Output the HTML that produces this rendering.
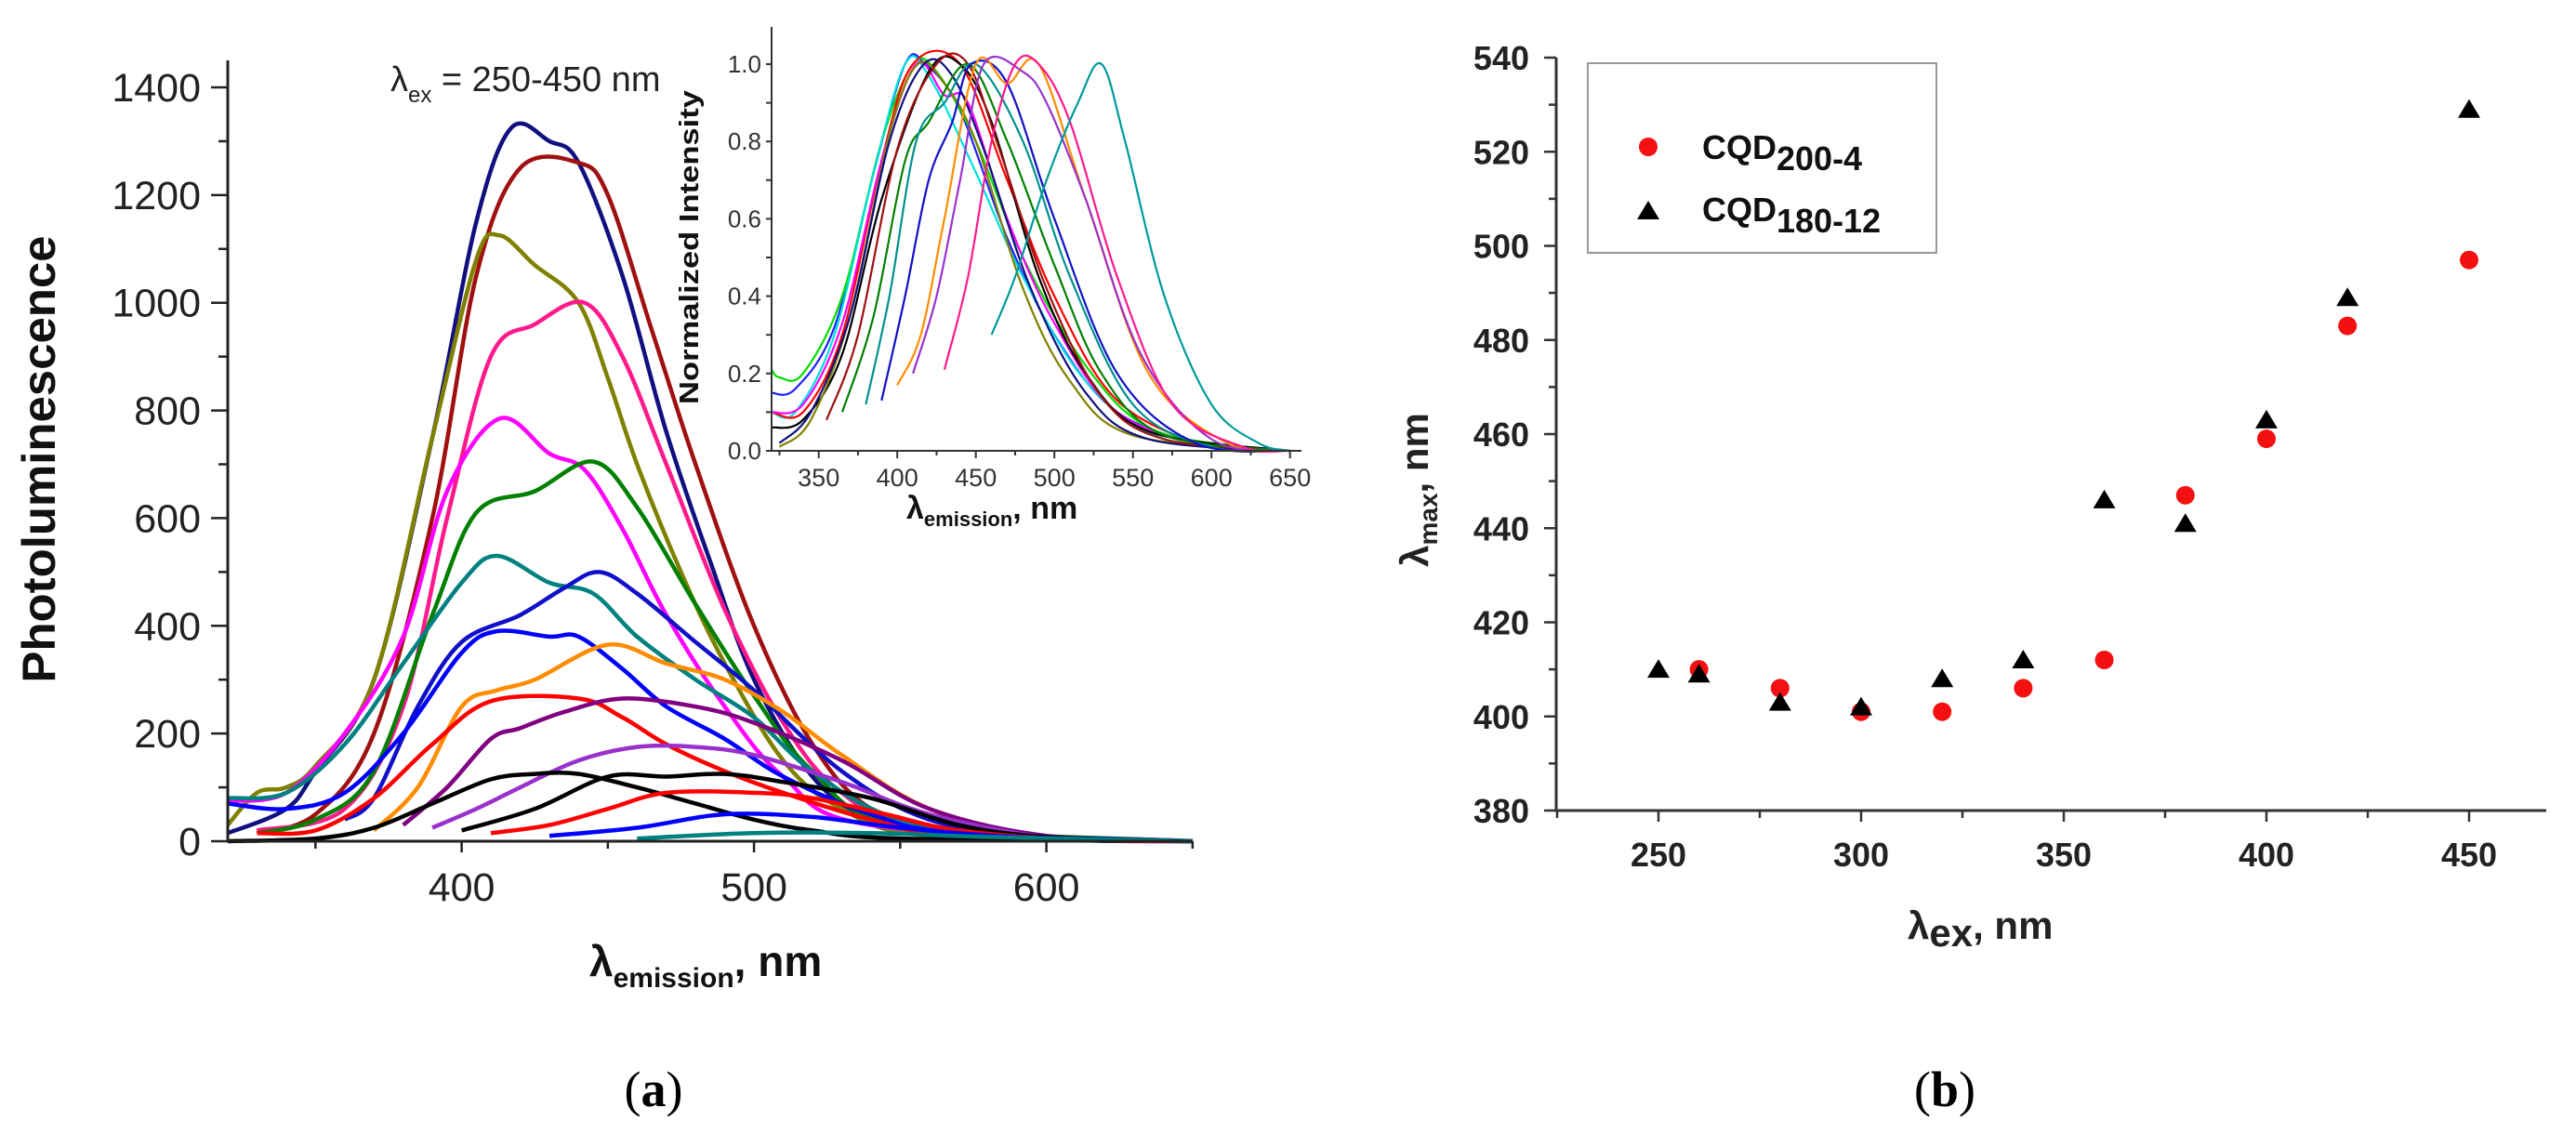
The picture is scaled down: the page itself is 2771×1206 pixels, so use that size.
<!DOCTYPE html>
<html><head><meta charset="utf-8"><style>
html,body{margin:0;padding:0;background:#fff;}
svg{display:block;}
text{font-family:"Liberation Sans",Arial,sans-serif;}
</style></head><body>
<svg id="fig" width="2771" height="1206" viewBox="0 0 2771 1206" xmlns="http://www.w3.org/2000/svg">
<rect width="2771" height="1206" fill="#fff"/>
<g id="pa"></g>
<g id="ins"></g>
<g id="pb"></g>
</svg>
<script>
// ---------- Panel (a) data ----------
const plColors = ["#101080","#a01010","#808000","#ff1a8c","#ff00ff","#008000","#008080","#1010c8","#0000ff","#ff8c00","#ff0000","#800080","#9932cc","#000000","#000000","#ff0000","#0000ff","#008080"];
const plC1=[[320,15],[340,60],[350,130],[370,300],[390,750],[405,1150],[417,1325],[430,1300],[440,1260],[455,1050],[470,760],[485,520],[500,300],[520,120],[540,40],[570,8],[650,0]];
const plC2=[[330,15],[350,50],[370,200],[390,600],[405,1050],[420,1250],[440,1260],[450,1200],[465,950],[480,700],[500,400],[520,180],[540,60],[570,10],[650,0]];
const plC3=[[320,30],[330,90],[340,100],[350,140],[370,300],[390,750],[405,1080],[413,1125],[425,1070],[440,1000],[450,860],[460,700],[475,500],[490,330],[510,150],[530,60],[560,10],[650,0]];
const plC4=[[330,20],[360,60],[380,250],[395,600],[410,900],[425,960],[442,1000],[455,900],[470,700],[490,430],[510,220],[530,90],[560,20],[650,0]];
const plC5=[[320,75],[340,90],[360,200],[380,380],[395,650],[413,785],[430,720],[442,690],[455,580],[470,420],[490,250],[510,120],[540,30],[650,0]];
const plC6=[[330,15],[350,40],[370,130],[390,420],[405,610],[425,650],[445,705],[460,620],[480,440],[500,270],[520,130],[550,30],[650,0]];
const plC7=[[320,80],[340,90],[360,180],[380,330],[400,480],[412,530],[430,480],[445,460],[460,380],[480,300],[500,230],[520,130],[550,40],[600,5],[650,0]];
const plC8=[[360,40],[370,80],[385,250],[400,370],[420,420],[435,470],[447,500],[460,460],[480,370],[500,280],[530,130],[560,40],[600,5],[650,0]];
const plC9=[[320,70],[340,60],[360,90],[380,200],[400,350],[412,390],[430,380],[440,380],[455,320],[470,250],[490,190],[510,120],[540,50],[570,15],[650,0]];
const plC10=[[370,20],[385,100],[400,250],[412,280],[425,300],[450,365],[470,330],[490,300],[510,240],[530,160],[560,60],[600,8],[650,0]];
const plC11=[[330,15],[350,20],[370,80],[390,180],[410,260],[440,265],[455,230],[470,180],[490,130],[510,90],[540,40],[570,10],[650,0]];
const plC12=[[380,30],[395,100],[410,190],[420,210],[435,240],[455,265],[480,250],[500,220],[530,150],[560,60],[600,10],[650,0]];
const plC13=[[390,25],[405,60],[420,100],[440,150],[460,175],[480,175],[500,160],[530,110],[560,50],[600,8],[650,0]];
const plC14=[[320,0],[350,5],[370,25],[390,70],[410,115],[425,125],[440,125],[460,100],[480,70],[500,40],[520,20],[550,5],[650,0]];
const plC15=[[400,20],[425,60],[450,120],[470,120],[490,125],[510,110],[540,80],[570,30],[600,8],[650,0]];
const plC16=[[410,15],[430,30],[450,60],[470,90],[500,90],[520,80],[545,50],[570,20],[610,3],[650,0]];
const plC17=[[430,10],[460,25],[490,50],[520,45],[550,25],[590,8],[650,0]];
const plC18=[[460,5],[500,15],[540,15],[580,8],[650,0]];
const plSeries=[plC1,plC2,plC3,plC4,plC5,plC6,plC7,plC8,plC9,plC10,plC11,plC12,plC13,plC14,plC15,plC16,plC17,plC18];
const plYTicks=[0,200,400,600,800,1000,1200,1400];
const plXTicks=[400,500,600];

// ---------- Inset data ----------
const inColors=["#2020ff","#00dd00","#00e0e0","#ff0000","#ff00ff","#000000","#808000","#101080","#a01010","#008000","#009090","#1010c8","#ff8c00","#9932cc","#ff1a8c","#009a9a"];
const in1=[[320,0.15],[335,0.16],[360,0.32],[385,0.72],[405,1],[418,1],[440,0.88],[470,0.55],[500,0.3],[540,0.1],[600,0.01],[650,0]];
const in2=[[320,0.21],[325,0.19],[340,0.2],[365,0.4],[390,0.8],[410,1],[425,0.98],[450,0.8],[480,0.5],[520,0.22],[560,0.06],[620,0.01],[650,0]];
const in3=[[320,0.1],[335,0.1],[360,0.3],[385,0.72],[405,1],[420,0.97],[450,0.72],[480,0.45],[520,0.18],[570,0.03],[650,0]];
const in4=[[320,0.1],[340,0.1],[365,0.3],[390,0.75],[410,1],[440,1],[470,0.7],[500,0.4],[540,0.13],[600,0.01],[650,0]];
const in5=[[320,0.1],[340,0.12],[365,0.33],[390,0.75],[412,1],[430,0.92],[445,0.9],[470,0.6],[500,0.33],[540,0.1],[600,0.01],[650,0]];
const in6=[[320,0.06],[340,0.08],[365,0.25],[390,0.65],[420,0.98],[440,1],[460,0.85],[490,0.45],[520,0.2],[560,0.05],[650,0]];
const in7=[[325,0.01],[345,0.08],[370,0.35],[395,0.82],[413,1],[430,0.95],[450,0.8],[480,0.42],[510,0.18],[550,0.04],[650,0]];
const in8=[[325,0.02],[345,0.1],[370,0.35],[395,0.8],[417,1],[435,0.97],[455,0.78],[485,0.42],[520,0.15],[560,0.03],[650,0]];
const in9=[[355,0.08],[375,0.3],[400,0.78],[425,1],[445,1],[465,0.78],[495,0.42],[530,0.14],[570,0.03],[650,0]];
const in10=[[365,0.1],[385,0.35],[405,0.75],[420,0.85],[445,1],[470,0.8],[500,0.48],[530,0.2],[570,0.04],[650,0]];
const in11=[[380,0.12],[395,0.4],[412,0.8],[430,0.9],[450,1],[480,0.8],[510,0.45],[550,0.12],[600,0.01],[650,0]];
const in12=[[390,0.13],[405,0.4],[420,0.7],[435,0.85],[447,1],[470,0.95],[500,0.6],[540,0.2],[590,0.02],[650,0]];
const in13=[[400,0.17],[415,0.3],[430,0.6],[450,1],[470,0.95],[490,1],[520,0.65],[560,0.2],[610,0.02],[650,0]];
const in14=[[410,0.2],[425,0.4],[440,0.7],[455,1],[480,0.98],[495,0.9],[520,0.65],[555,0.25],[600,0.03],[650,0]];
const in15=[[430,0.21],[445,0.45],[460,0.8],[475,1],[490,1],[510,0.85],[540,0.45],[575,0.12],[620,0.01],[650,0]];
const in16=[[460,0.3],[475,0.45],[495,0.7],[515,0.9],[530,1],[545,0.8],[570,0.4],[600,0.12],[630,0.02],[650,0]];
const inSeries=[in1,in2,in3,in4,in5,in6,in7,in8,in9,in10,in11,in12,in13,in14,in15,in16];
const inYTicks=[0,0.2,0.4,0.6,0.8,1.0];
const inXTicks=[350,400,450,500,550,600,650];

// ---------- Panel (b) data ----------
const exA=[260,280,300,320,340,360,380,400,420,450];
const maxA=[410,406,401,401,406,412,447,459,483,497];
const exB=[250,260,280,300,320,340,360,380,400,420,450];
const maxB=[410,409,403,402,408,412,446,441,463,489,529];
const bYTicks=[380,400,420,440,460,480,500,520,540];
const bXTicks=[250,300,350,400,450];

const NS="http://www.w3.org/2000/svg";
function mk(parent,tag,attrs,txt){const e=document.createElementNS(NS,tag);for(const k in attrs)e.setAttribute(k,attrs[k]);if(txt!==undefined)e.textContent=txt;parent.appendChild(e);return e;}
function smooth(pts){let d="M"+pts[0][0].toFixed(1)+","+pts[0][1].toFixed(1);for(let i=0;i<pts.length-1;i++){const p0=pts[Math.max(0,i-1)],p1=pts[i],p2=pts[i+1],p3=pts[Math.min(pts.length-1,i+2)];const c1=[p1[0]+(p2[0]-p0[0])/6,p1[1]+(p2[1]-p0[1])/6],c2=[p2[0]-(p3[0]-p1[0])/6,p2[1]-(p3[1]-p1[1])/6];d+="C"+c1[0].toFixed(1)+","+c1[1].toFixed(1)+" "+c2[0].toFixed(1)+","+c2[1].toFixed(1)+" "+p2[0].toFixed(1)+","+p2[1].toFixed(1);}return d;}

// ===== Panel a =====
const pa=document.getElementById('pa');
const ax=v=>245+(v-320)*3.145, ay=v=>905-v*(811/1400);
plSeries.forEach((s,i)=>{
  const p=mk(pa,'path',{d:smooth(s.map(q=>[ax(q[0]),ay(q[1])])),fill:'none',stroke:plColors[i],'stroke-width':4.5,'stroke-linejoin':'round'});
  
  
});
let e;
e=mk(pa,'path',{d:`M245,65V905H${ax(650)}`,fill:'none',stroke:'#222','stroke-width':3});

for(let v=0;v<=1400;v+=100){mk(pa,'line',{x1:245,x2:v%200?235:227,y1:ay(v),y2:ay(v),stroke:'#222','stroke-width':2.5});}
plYTicks.forEach(v=>{e=mk(pa,'text',{x:216,y:ay(v)+15,'font-size':43,'text-anchor':'end',fill:'#222'},String(v));});
for(let v=350;v<=650;v+=50){mk(pa,'line',{x1:ax(v),x2:ax(v),y1:905,y2:v%100?913:917,stroke:'#222','stroke-width':2.5});}
plXTicks.forEach(v=>{e=mk(pa,'text',{x:ax(v),y:969,'font-size':43,'text-anchor':'middle',fill:'#222'},String(v));});
e=mk(pa,'text',{x:0,y:0,'font-size':50,'font-weight':'bold',transform:'translate(59,494) rotate(-90)','text-anchor':'middle',textLength:481,lengthAdjust:'spacingAndGlyphs',fill:'#111'},'Photoluminescence');

e=mk(pa,'text',{x:634,y:1050,'font-size':46,'font-weight':'bold',fill:'#111'});

e.innerHTML='λ<tspan font-size="30" dy="12">emission</tspan><tspan dy="-12">, nm</tspan>';
e=mk(pa,'text',{x:420,y:98,'font-size':38,fill:'#222'});

e.innerHTML='λ<tspan font-size="24" dy="12">ex</tspan><tspan dy="-12"> = 250-450 nm</tspan>';
e=mk(pa,'text',{x:703,y:1190,'font-size':54,'text-anchor':'middle',style:'font-family:"Liberation Serif",serif',fill:'#000'});

e.innerHTML='(<tspan font-weight="bold">a</tspan>)';

// ===== Inset =====
const ins=document.getElementById('ins');
const ix=v=>830+(v-320)*1.69, iy=v=>485-v*416;
inSeries.forEach((s,i)=>{
  const p=mk(ins,'path',{d:smooth(s.map(q=>[ix(q[0]),iy(q[1])])),fill:'none',stroke:inColors[i],'stroke-width':2.2});
  
  
});
e=mk(ins,'path',{d:`M830,29V485H1400`,fill:'none',stroke:'#333','stroke-width':2});

for(let v=0;v<=1.05;v+=0.1){mk(ins,'line',{x1:830,x2:824,y1:iy(v),y2:iy(v),stroke:'#333','stroke-width':2});}
inYTicks.forEach(v=>{e=mk(ins,'text',{x:819,y:iy(v)+9,'font-size':26,'text-anchor':'end',fill:'#333'},v.toFixed(1));});
for(let v=325;v<=650;v+=25){mk(ins,'line',{x1:ix(v),x2:ix(v),y1:485,y2:v%50?490:493,stroke:'#333','stroke-width':2});}
inXTicks.forEach(v=>{e=mk(ins,'text',{x:ix(v),y:523,'font-size':27,'text-anchor':'middle',fill:'#333'},String(v));});
e=mk(ins,'text',{x:0,y:0,'font-size':29,'font-weight':'bold',transform:'translate(751,266) rotate(-90)','text-anchor':'middle',textLength:338,lengthAdjust:'spacingAndGlyphs',fill:'#111'},'Normalized Intensity');

e=mk(ins,'text',{x:975,y:558,'font-size':34,'font-weight':'bold',fill:'#111'});

e.innerHTML='λ<tspan font-size="22" dy="8">emission</tspan><tspan dy="-8">, nm</tspan>';

// ===== Panel b =====
const pb=document.getElementById('pb');
const bx=v=>1784+(v-250)*4.36, by=v=>872-(v-380)*(810/160);
e=mk(pb,'path',{d:`M1674,62V872H2739`,fill:'none',stroke:'#333','stroke-width':3});

for(let v=380;v<=540;v+=10){mk(pb,'line',{x1:1674,x2:v%20?1666:1661,y1:by(v),y2:by(v),stroke:'#333','stroke-width':2.5});}
bYTicks.forEach(v=>{e=mk(pb,'text',{x:1645,y:by(v)+13,'font-size':36,'font-weight':'bold','text-anchor':'end',fill:'#222'},String(v));});
for(let v=225;v<=470;v+=25){mk(pb,'line',{x1:bx(v),x2:bx(v),y1:872,y2:v%50?880:884,stroke:'#333','stroke-width':2.5});}
bXTicks.forEach(v=>{e=mk(pb,'text',{x:bx(v),y:932,'font-size':36,'font-weight':'bold','text-anchor':'middle',fill:'#222'},String(v));});
exA.forEach((x,i)=>{e=mk(pb,'circle',{cx:bx(x),cy:by(maxA[i]),r:10,fill:'#f21010'});});
exB.forEach((x,i)=>{const cx=bx(x),cy=by(maxB[i]);e=mk(pb,'polygon',{points:`${cx},${cy-11} ${cx-12},${cy+9} ${cx+12},${cy+9}`,fill:'#000'});});
const lg=mk(pb,'g',{});

mk(lg,'rect',{x:1708,y:68,width:375,height:204,fill:'#fff',stroke:'#999','stroke-width':2});
e=mk(lg,'circle',{cx:1773,cy:158,r:10,fill:'#f21010'});
e=mk(lg,'polygon',{points:'1773,216 1761,236 1785,236',fill:'#000'});
e=mk(lg,'text',{x:1831,y:171,'font-size':36,'font-weight':'bold',fill:'#111'});
e.innerHTML='CQD<tspan dy="12">200-4</tspan>';
e=mk(lg,'text',{x:1831,y:238,'font-size':36,'font-weight':'bold',fill:'#111'});
e.innerHTML='CQD<tspan dy="12">180-12</tspan>';
e=mk(pb,'text',{x:0,y:0,'font-size':42,'font-weight':'bold',transform:'translate(1536,527) rotate(-90)','text-anchor':'middle',fill:'#222'});

e.innerHTML='λ<tspan font-size="28" dy="10">max</tspan><tspan dy="-10">, nm</tspan>';
e=mk(pb,'text',{x:2052,y:1010,'font-size':42,'font-weight':'bold',fill:'#222'});

e.innerHTML='λ<tspan dy="8">ex</tspan><tspan dy="-8">, nm</tspan>';
e=mk(pb,'text',{x:2092,y:1190,'font-size':54,'text-anchor':'middle',style:'font-family:"Liberation Serif",serif',fill:'#000'});

e.innerHTML='(<tspan font-weight="bold">b</tspan>)';
</script>
</body></html>
